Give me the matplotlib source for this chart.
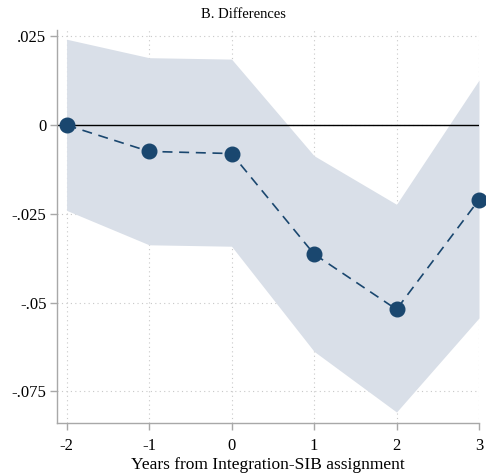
import matplotlib.pyplot as plt

# event-time coefficients, differences panel
years = [-2, -1, 0, 1, 2, 3]
coef = [0.0, -0.0074, -0.0080, -0.0363, -0.0519, -0.0210]
ci_hi = [0.0242, 0.0190, 0.0186, -0.0086, -0.0223, 0.0127]
ci_lo = [-0.0240, -0.0337, -0.0341, -0.0637, -0.0808, -0.0543]

yticks = [0.025, 0, -0.025, -0.05, -0.075]
ylabels = ['.025', '0', '-.025', '-.05', '-.075']

plt.rcParams['font.family'] = ['Liberation Serif', 'DejaVu Serif']

fig = plt.figure(figsize=(4.86, 4.76), dpi=100)
ax = fig.add_axes([0.1183, 0.112, 0.8673, 0.825])

navy = '#1a476f'
ax.fill_between(years, ci_lo, ci_hi, color='#d9dfe8', lw=0, zorder=1)
ax.axhline(0, color='black', lw=1.0, zorder=2)
ax.plot(years, coef, '--', color=navy, lw=1.2, dashes=(6, 4), zorder=3)
ax.plot(years, coef, 'o', color=navy, ms=10.5, zorder=4, clip_on=False)

ax.set_xlim(-2.11, 3.0)
ax.set_ylim(-0.0838, 0.0268)
ax.set_xticks(years)
ax.set_xticklabels([str(y) for y in years])
ax.set_yticks(yticks)
ax.set_yticklabels(ylabels)

ax.grid(True, color='#c8c8c8', linestyle=(0, (1, 3)), lw=0.8)
ax.set_axisbelow(True)
for s in ['top', 'right']:
    ax.spines[s].set_visible(False)
for s in ['left', 'bottom']:
    ax.spines[s].set_color('#a8a8a8')
    ax.spines[s].set_linewidth(1.0)
ax.tick_params(colors='#a8a8a8', length=5, width=1.0, labelsize=12,
               labelcolor='black')
ax.tick_params(axis='y', pad=3)
ax.tick_params(axis='x', pad=6)

ax.set_xlabel('Years from Integration-SIB assignment', fontsize=12.5, labelpad=2)
fig.text(0.5, 1 - 14 / 476, 'B. Differences', ha='center', va='center', fontsize=10.5)

fig.savefig('out.png', dpi=100)
